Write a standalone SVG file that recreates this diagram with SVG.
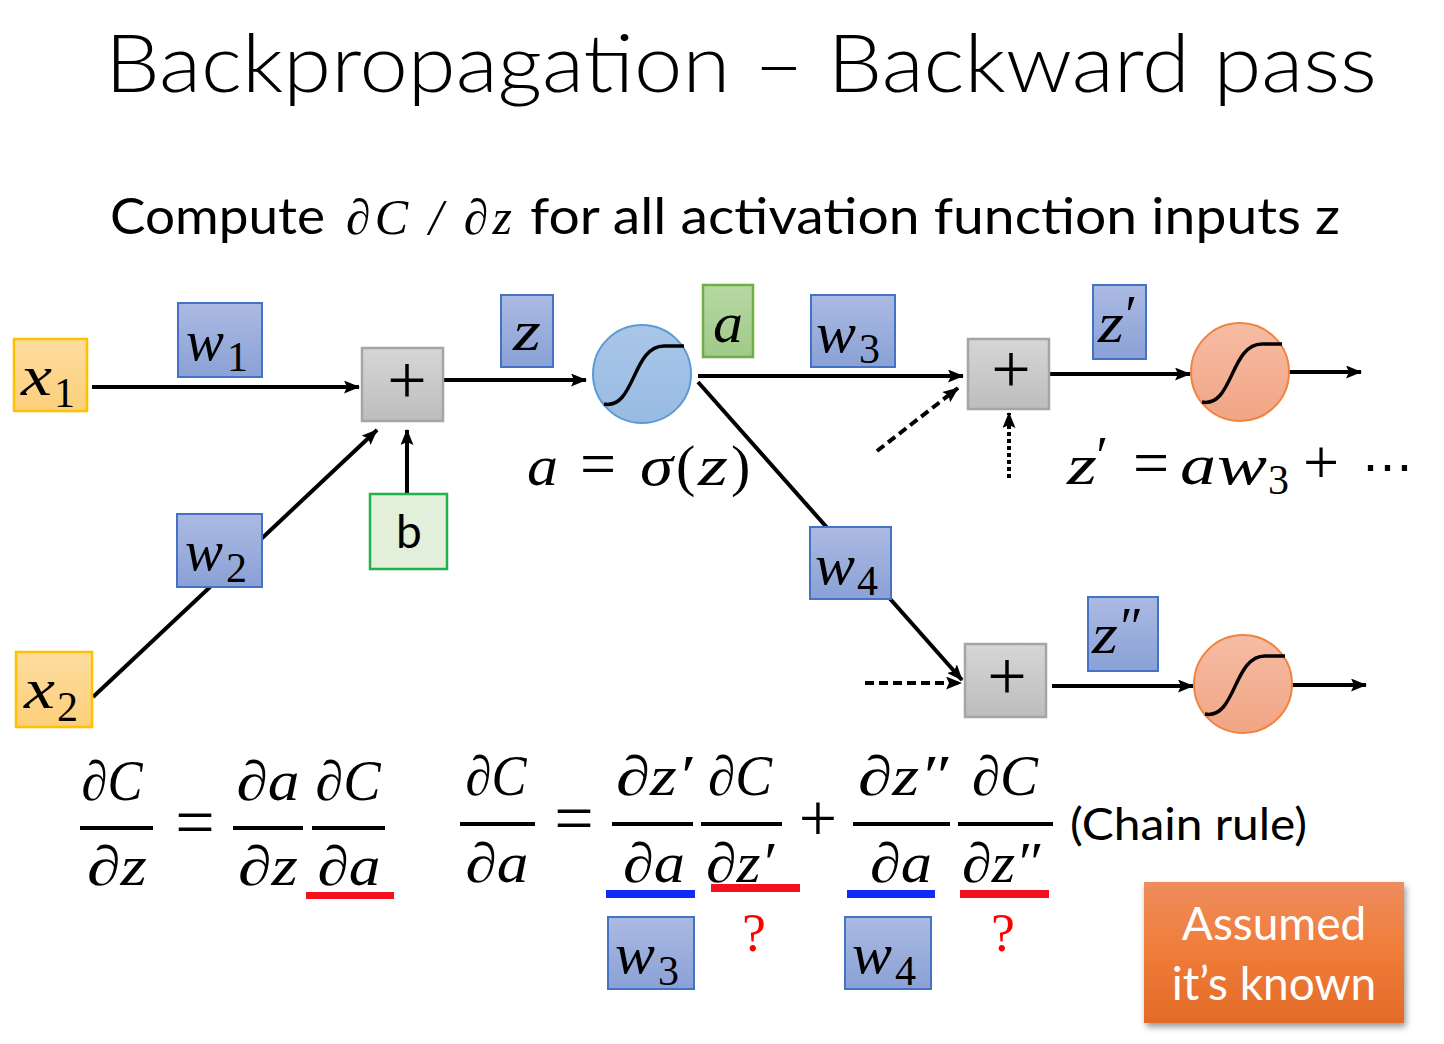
<svg xmlns="http://www.w3.org/2000/svg" width="1444" height="1044" viewBox="0 0 1444 1044">
<defs>
<style>
.title{font-family:Lato,"Liberation Sans",sans-serif;font-weight:300;fill:#000}
.sans{font-family:Lato,"Liberation Sans",sans-serif;fill:#000}
.m{font-family:"Liberation Serif","DejaVu Serif",serif;font-style:italic;fill:#000}
.mu{font-family:"Liberation Serif","DejaVu Serif",serif;fill:#000}
.wbox{fill:url(#gBlue);stroke:#4472c4;stroke-width:2}
.xbox{fill:url(#gYel);stroke:#ffc000;stroke-width:2.5}
.pbox{fill:url(#gGray);stroke:#a5a5a5;stroke-width:2.5}
.conn{stroke:#000;stroke-width:4;fill:none}
.dash{stroke-dasharray:9 5}
.dot{stroke-dasharray:4 3}
.sig{fill:none;stroke:#000;stroke-width:3.5}
.red{fill:#f5101f}
.blue{fill:#0f2bf5}
.q{font-family:"Liberation Serif","DejaVu Serif",serif;fill:#ff0000}
</style>
<linearGradient id="gBlue" x1="0" y1="0" x2="0" y2="1"><stop offset="0" stop-color="#abbae2"/><stop offset="1" stop-color="#8aa1d6"/></linearGradient>
<linearGradient id="gYel" x1="0" y1="0" x2="0" y2="1"><stop offset="0" stop-color="#fedda0"/><stop offset="1" stop-color="#fccf7a"/></linearGradient>
<linearGradient id="gGray" x1="0" y1="0" x2="0" y2="1"><stop offset="0" stop-color="#d6d6d6"/><stop offset="1" stop-color="#bdbdbd"/></linearGradient>
<linearGradient id="gGreen" x1="0" y1="0" x2="0" y2="1"><stop offset="0" stop-color="#b7d8a3"/><stop offset="1" stop-color="#9fca88"/></linearGradient>
<linearGradient id="gSigB" x1="0" y1="0" x2="0" y2="1"><stop offset="0" stop-color="#a9c6e8"/><stop offset="1" stop-color="#98bbe3"/></linearGradient>
<linearGradient id="gSigO" x1="0" y1="0" x2="0" y2="1"><stop offset="0" stop-color="#f6bca4"/><stop offset="1" stop-color="#f1a584"/></linearGradient>
<linearGradient id="gOrange" x1="0" y1="0" x2="0" y2="1"><stop offset="0" stop-color="#ee8d5e"/><stop offset="0.5" stop-color="#f07c38"/><stop offset="1" stop-color="#e26b28"/></linearGradient>
<filter id="shadow" x="-10%" y="-10%" width="125%" height="130%"><feDropShadow dx="2" dy="4" stdDeviation="3" flood-color="#000" flood-opacity="0.4"/></filter>
<marker id="ah" markerUnits="userSpaceOnUse" markerWidth="16" markerHeight="13" refX="15" refY="6.5" orient="auto"><path d="M0,0 L16,6.5 L0,13 L3,6.5 z" fill="#000"/></marker>
<path id="sigc" d="M-38,30 C-7,36 -10,-28 22,-28 L42,-28"/>
</defs>
<rect width="1444" height="1044" fill="#fff"/>

<text class="title" x="105" y="92" font-size="80" textLength="1272" lengthAdjust="spacingAndGlyphs">Backpropagation – Backward pass</text>
<text class="sans" x="110" y="234" font-size="50" textLength="215" lengthAdjust="spacingAndGlyphs">Compute</text>
<text class="m" x="346" y="234" font-size="50" textLength="166" lengthAdjust="spacing">∂C / ∂z</text>
<text class="sans" x="530" y="234" font-size="50" textLength="810" lengthAdjust="spacingAndGlyphs">for all activation function inputs z</text>

<g id="connectors">
<path class="conn" marker-end="url(#ah)" d="M92,387 L359,387"/>
<path class="conn" marker-end="url(#ah)" d="M93,697 L377,430"/>
<path class="conn" marker-end="url(#ah)" d="M407,494 L407,430"/>
<path class="conn" marker-end="url(#ah)" d="M443,380 L586,380"/>
<path class="conn" marker-end="url(#ah)" d="M698,376 L963,376"/>
<path class="conn" marker-end="url(#ah)" d="M698,382 L962,680"/>
<path class="conn dash" marker-end="url(#ah)" d="M877,451 L958,388"/>
<path class="conn dot" marker-end="url(#ah)" d="M1009,478 L1009,413"/>
<path class="conn" marker-end="url(#ah)" d="M1049,374 L1190,374"/>
<path class="conn" marker-end="url(#ah)" d="M1289,372 L1361,372"/>
<path class="conn dash" marker-end="url(#ah)" d="M865,683 L961,683"/>
<path class="conn" marker-end="url(#ah)" d="M1052,686 L1193,686"/>
<path class="conn" marker-end="url(#ah)" d="M1292,685 L1366,685"/>
</g>

<g id="x1"><rect class="xbox" x="14" y="339" width="73" height="72"/><text class="m" x="21" y="395" font-size="58" textLength="31" lengthAdjust="spacingAndGlyphs">x</text><text class="mu" x="54" y="407" font-size="42">1</text></g>
<g id="x2"><rect class="xbox" x="16" y="652" width="76" height="75"/><text class="m" x="24" y="708" font-size="58" textLength="31" lengthAdjust="spacingAndGlyphs">x</text><text class="mu" x="57" y="721" font-size="42">2</text></g>
<g id="w1"><rect class="wbox" x="178" y="303" width="84" height="74"/><text class="m" x="186" y="360" font-size="58" textLength="38" lengthAdjust="spacingAndGlyphs">w</text><text class="mu" x="227" y="371" font-size="42">1</text></g>
<g id="w2"><rect class="wbox" x="177" y="514" width="85" height="73"/><text class="m" x="185" y="570" font-size="58" textLength="38" lengthAdjust="spacingAndGlyphs">w</text><text class="mu" x="226" y="582" font-size="42">2</text></g>
<g id="plus1"><rect class="pbox" x="362" y="348" width="81" height="73"/><text class="mu" x="407" y="404" font-size="70" text-anchor="middle">+</text></g>
<g id="b"><rect x="370" y="494" width="77" height="75" fill="#e2efda" stroke="#22b14c" stroke-width="2.5"/><text class="sans" x="409" y="548" font-size="46" text-anchor="middle">b</text></g>
<g id="z"><rect class="wbox" x="501" y="295" width="52" height="72"/><text class="m" x="527" y="350" font-size="58" text-anchor="middle" textLength="28" lengthAdjust="spacingAndGlyphs">z</text></g>
<g id="sigma1"><circle cx="642" cy="374" r="49" fill="url(#gSigB)" stroke="#5b9bd5" stroke-width="2"/><use href="#sigc" class="sig" transform="translate(642,374)"/></g>
<g id="a"><rect x="703" y="285" width="50" height="72" fill="url(#gGreen)" stroke="#70ad47" stroke-width="2.5"/><text class="m" x="728" y="342" font-size="58" text-anchor="middle" textLength="30" lengthAdjust="spacingAndGlyphs">a</text></g>
<g id="eq-a">
<text class="m" x="527" y="485" font-size="56" textLength="31" lengthAdjust="spacingAndGlyphs">a</text>
<text class="mu" x="598" y="485" font-size="64" text-anchor="middle">=</text>
<text class="m" x="640" y="485" font-size="56" textLength="33" lengthAdjust="spacingAndGlyphs">σ</text>
<text class="mu" x="676" y="485" font-size="58">(</text>
<text class="m" x="698" y="485" font-size="56" textLength="30" lengthAdjust="spacingAndGlyphs">z</text>
<text class="mu" x="731" y="485" font-size="58">)</text>
</g>
<g id="w3"><rect class="wbox" x="811" y="295" width="84" height="72"/><text class="m" x="816" y="352" font-size="58" textLength="40" lengthAdjust="spacingAndGlyphs">w</text><text class="mu" x="859" y="363" font-size="42">3</text></g>
<g id="w4"><rect class="wbox" x="810" y="527" width="81" height="72"/><text class="m" x="815" y="584" font-size="58" textLength="40" lengthAdjust="spacingAndGlyphs">w</text><text class="mu" x="857" y="595" font-size="42">4</text></g>
<g id="plus2"><rect class="pbox" x="968" y="339" width="81" height="70"/><text class="mu" x="1011" y="393" font-size="70" text-anchor="middle">+</text></g>
<g id="zp"><rect class="wbox" x="1093" y="285" width="53" height="74"/><text class="m" x="1098" y="342" font-size="58" textLength="26" lengthAdjust="spacingAndGlyphs">z</text><text class="m" x="1122" y="333" font-size="54">′</text></g>
<g id="sigma2"><circle cx="1240" cy="372" r="49" fill="url(#gSigO)" stroke="#f08343" stroke-width="2"/><use href="#sigc" class="sig" transform="translate(1240,372)"/></g>
<g id="eq-zp">
<text class="m" x="1067" y="484" font-size="58" textLength="30" lengthAdjust="spacingAndGlyphs">z</text>
<text class="m" x="1093" y="474" font-size="54">′</text>
<text class="mu" x="1151" y="484" font-size="64" text-anchor="middle">=</text>
<text class="m" x="1180" y="484" font-size="58" textLength="36" lengthAdjust="spacingAndGlyphs">a</text>
<text class="m" x="1217" y="484" font-size="58" textLength="50" lengthAdjust="spacingAndGlyphs">w</text>
<text class="mu" x="1268" y="494" font-size="42">3</text>
<text class="mu" x="1321" y="484" font-size="64" text-anchor="middle">+</text>
<text class="mu" x="1362" y="484" font-size="52" textLength="51" lengthAdjust="spacingAndGlyphs">⋯</text>
</g>
<g id="plus3"><rect class="pbox" x="965" y="644" width="81" height="73"/><text class="mu" x="1007" y="700" font-size="70" text-anchor="middle">+</text></g>
<g id="zpp"><rect class="wbox" x="1088" y="597" width="70" height="74"/><text class="m" x="1092" y="653" font-size="58" textLength="26" lengthAdjust="spacingAndGlyphs">z</text><text class="m" x="1117" y="645" font-size="54">″</text></g>
<g id="sigma3"><circle cx="1243" cy="684" r="49" fill="url(#gSigO)" stroke="#f08343" stroke-width="2"/><use href="#sigc" class="sig" transform="translate(1243,684)"/></g>

<g id="formula1">
<text class="m" x="112" y="800" font-size="56" text-anchor="middle" textLength="61" lengthAdjust="spacingAndGlyphs">∂C</text>
<rect x="80" y="826" width="73" height="4"/>
<text class="m" x="117" y="885" font-size="56" text-anchor="middle" textLength="60" lengthAdjust="spacingAndGlyphs">∂z</text>
<text class="mu" x="195" y="846" font-size="70" text-anchor="middle">=</text>
<text class="m" x="268" y="800" font-size="56" text-anchor="middle" textLength="63" lengthAdjust="spacingAndGlyphs">∂a</text>
<rect x="233" y="826" width="70" height="4"/>
<text class="m" x="268" y="885" font-size="56" text-anchor="middle" textLength="60" lengthAdjust="spacingAndGlyphs">∂z</text>
<text class="m" x="348" y="800" font-size="56" text-anchor="middle" textLength="65" lengthAdjust="spacingAndGlyphs">∂C</text>
<rect x="312" y="826" width="73" height="4"/>
<text class="m" x="349" y="885" font-size="56" text-anchor="middle" textLength="63" lengthAdjust="spacingAndGlyphs">∂a</text>
<rect class="red" x="306" y="892" width="88" height="7"/>
</g>

<g id="formula2">
<text class="m" x="496" y="795" font-size="56" text-anchor="middle" textLength="61" lengthAdjust="spacingAndGlyphs">∂C</text>
<rect x="460" y="822" width="75" height="4"/>
<text class="m" x="497" y="882" font-size="56" text-anchor="middle" textLength="63" lengthAdjust="spacingAndGlyphs">∂a</text>
<text class="mu" x="574" y="842" font-size="70" text-anchor="middle">=</text>
<text class="m" x="654" y="795" font-size="56" text-anchor="middle" textLength="76" lengthAdjust="spacingAndGlyphs">∂z′</text>
<rect x="612" y="822" width="81" height="4"/>
<text class="m" x="654" y="882" font-size="56" text-anchor="middle" textLength="62" lengthAdjust="spacingAndGlyphs">∂a</text>
<text class="m" x="740" y="795" font-size="56" text-anchor="middle" textLength="64" lengthAdjust="spacingAndGlyphs">∂C</text>
<rect x="701" y="822" width="81" height="4"/>
<text class="m" x="740" y="882" font-size="56" text-anchor="middle" textLength="68" lengthAdjust="spacingAndGlyphs">∂z′</text>
<rect class="blue" x="606" y="890" width="89" height="8"/>
<rect class="red" x="711" y="884" width="89" height="8"/>
<text class="mu" x="818" y="841" font-size="68" text-anchor="middle">+</text>
<text class="m" x="903" y="795" font-size="56" text-anchor="middle" textLength="90" lengthAdjust="spacingAndGlyphs">∂z″</text>
<rect x="853" y="822" width="97" height="4"/>
<text class="m" x="901" y="882" font-size="56" text-anchor="middle" textLength="62" lengthAdjust="spacingAndGlyphs">∂a</text>
<text class="m" x="1005" y="795" font-size="56" text-anchor="middle" textLength="66" lengthAdjust="spacingAndGlyphs">∂C</text>
<rect x="958" y="822" width="95" height="4"/>
<text class="m" x="1001" y="882" font-size="56" text-anchor="middle" textLength="78" lengthAdjust="spacingAndGlyphs">∂z″</text>
<rect class="blue" x="847" y="890" width="88" height="8"/>
<rect class="red" x="960" y="890" width="89" height="8"/>
</g>

<g id="w3b"><rect class="wbox" x="608" y="917" width="86" height="72"/><text class="m" x="615" y="973" font-size="58" textLength="40" lengthAdjust="spacingAndGlyphs">w</text><text class="mu" x="658" y="985" font-size="42">3</text></g>
<g id="w4b"><rect class="wbox" x="845" y="917" width="86" height="72"/><text class="m" x="852" y="973" font-size="58" textLength="40" lengthAdjust="spacingAndGlyphs">w</text><text class="mu" x="895" y="985" font-size="42">4</text></g>
<g id="q1"><text class="q" x="754" y="951" font-size="54" text-anchor="middle">?</text></g>
<g id="q2"><text class="q" x="1003" y="951" font-size="54" text-anchor="middle">?</text></g>

<text class="sans" x="1070" y="840" font-size="44" textLength="237" lengthAdjust="spacingAndGlyphs">(Chain rule)</text>

<g id="assumed"><rect x="1144" y="882" width="260" height="141" fill="url(#gOrange)" filter="url(#shadow)"/>
<text class="sans" x="1274" y="940" font-size="46" text-anchor="middle" style="fill:#fff">Assumed</text>
<text class="sans" x="1274" y="1000" font-size="46" text-anchor="middle" style="fill:#fff">it’s known</text></g>
</svg>
